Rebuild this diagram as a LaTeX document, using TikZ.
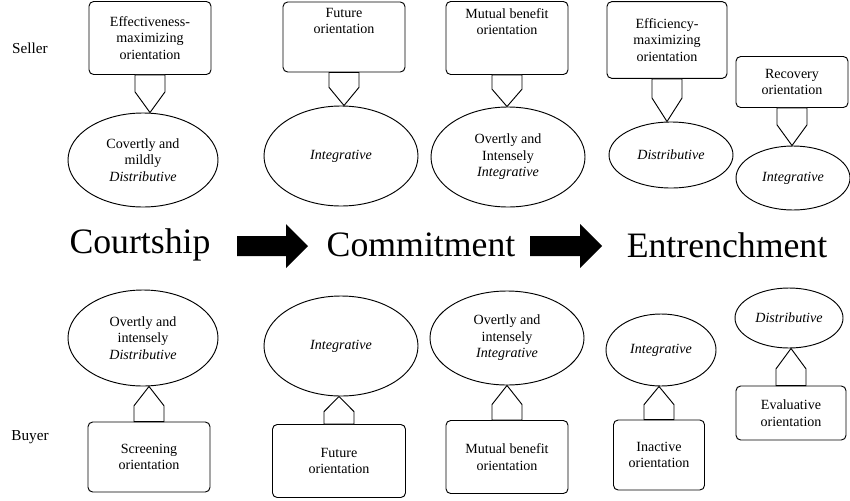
\documentclass[tikz,border=0pt]{standalone}
\usepackage{fontspec}
\setmainfont{Liberation Serif}
\usetikzlibrary{shapes.geometric,calc}
\tikzset{
	obox/.style={draw,thick,rounded corners=4pt,align=center,font=\fontsize{12}{14}\selectfont,
		minimum width=3.66cm,inner sep=1pt},
	oell/.style={draw,thick,ellipse,align=center,font=\fontsize{12}{14}\selectfont,inner sep=0pt},
	stage/.style={font=\fontsize{30.5}{36}\selectfont},
	side/.style={font=\fontsize{13}{15}\selectfont},
	bigarrow/.style={fill=black,draw=none}
}
% pentagon connector from box (#1) to ellipse (#2)
\newcommand{\conn}[2]{
	\coordinate (m) at ($(#1.center |- #1.south)!0.45!(#1.center |- #2.north)$);
	\draw[thick,fill=white] ($(#1.south)+(-15,0)$) -- ($(#1.south)+(15,0)$)
	-- ($(m)+(15,0)$) -- (#1.center |- #2.north) -- ($(m)+(-15,0)$) -- cycle;
}
\begin{document}
\begin{tikzpicture}[x=0.03cm,y=-0.03cm]
	\useasboundingbox (0,0) rectangle (850,500);
	\node[side] (seller) at (30,48) {Seller};
	\node[side] (buyer) at (30,437) {Buyer};

	% seller side
	\node[obox,minimum height=2.19cm] (s1) at (150,38) {Effectiveness-\\maximizing\\orientation};
	\node[oell,minimum width=4.5cm,minimum height=2.82cm] (e1) at (143,160) {Covertly and\\mildly\\\textit{Distributive}};
	\node[obox,minimum height=2.1cm] (s2) at (344,37) {Future\\orientation\\[14pt]};
	\node[oell,minimum width=4.62cm,minimum height=3cm] (e2) at (341,156) {\textit{Integrative}};
	\node[obox,minimum height=2.19cm] (s3) at (507,38) {Mutual benefit\\orientation\\[14pt]};
	\node[oell,minimum width=4.62cm,minimum height=3cm] (e3) at (508,157) {Overtly and\\Intensely\\\textit{Integrative}};
	\node[obox,minimum width=3.6cm,minimum height=2.3cm] (s4) at (667,40) {Efficiency-\\maximizing\\orientation};
	\node[oell,minimum width=3.72cm,minimum height=1.98cm] (e4) at (671,155) {\textit{Distributive}};
	\node[obox,minimum width=3.36cm,minimum height=1.53cm] (s5) at (792,82) {Recovery\\orientation};
	\node[oell,minimum width=3.42cm,minimum height=1.92cm] (e5) at (793,178) {\textit{Integrative}};
	\foreach \b/\e in {s1/e1,s2/e2,s3/e3,s4/e4,s5/e5} {\conn{\b}{\e}}

	% stages
	\node[stage] (court) at (140,245) {Courtship};
	\node[stage] (commit) at (421,245) {Commitment};
	\node[stage] (entr) at (727,245) {Entrenchment};
	\foreach \a/\b in {237/308,530/602}
		\fill[bigarrow] (\a,236) -- (\b-22,236) -- (\b-22,224) -- (\b,246) -- (\b-22,268) -- (\b-22,256) -- (\a,256) -- cycle;

	% buyer side
	\node[oell,minimum width=4.5cm,minimum height=2.88cm] (f1) at (143,338) {Overtly and\\intensely\\\textit{Distributive}};
	\node[obox,minimum height=2.1cm] (b1) at (149,457) {Screening\\orientation};
	\node[oell,minimum width=4.62cm,minimum height=3cm] (f2) at (341,346) {\textit{Integrative}};
	\node[obox,minimum width=3.99cm,minimum height=2.19cm] (b2) at (339,461) {Future\\orientation};
	\node[oell,minimum width=4.62cm,minimum height=2.82cm] (f3) at (507,338) {Overtly and\\intensely\\\textit{Integrative}};
	\node[obox,minimum height=2.19cm] (b3) at (507,457) {Mutual benefit\\orientation};
	\node[oell,minimum width=3.3cm,minimum height=2.16cm] (f4) at (661,350) {\textit{Integrative}};
	\node[obox,minimum width=2.73cm,minimum height=2.1cm] (b4) at (659,455) {Inactive\\orientation};
	\node[oell,minimum width=3.24cm,minimum height=1.8cm] (f5) at (789,318) {\textit{Distributive}};
	\node[obox,minimum width=3.3cm,minimum height=1.62cm] (b5) at (791,413) {Evaluative\\orientation};
	\foreach \b/\e in {b1/f1,b2/f2,b3/f3,b4/f4,b5/f5} {
		\coordinate (m) at ($(\b.north)!0.45!(\b.center |- \e.south)$);
		\draw[thick,fill=white] ($(\b.north)+(-15,0)$) -- ($(\b.north)+(15,0)$)
		-- ($(m)+(15,0)$) -- (\b.center |- \e.south) -- ($(m)+(-15,0)$) -- cycle;
	}
\end{tikzpicture}
\end{document}
